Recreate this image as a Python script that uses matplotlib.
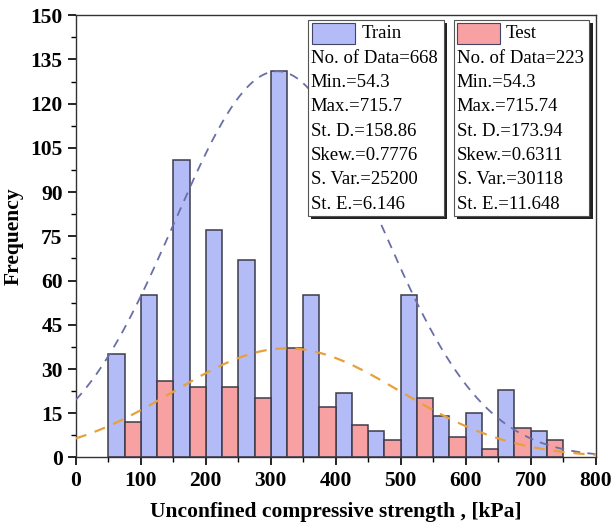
import matplotlib
matplotlib.use("Agg")
import matplotlib.pyplot as plt
import numpy as np
from matplotlib.patches import Rectangle
from matplotlib.ticker import MultipleLocator

# Histogram data (bins of 50 kPa starting at 50)
bin_left = [50, 100, 150, 200, 250, 300, 350, 400, 450, 500, 550, 600, 650, 700]
train_counts = [35, 55, 101, 77, 67, 131, 55, 22, 9, 55, 14, 15, 23, 9]
test_counts = [12, 26, 24, 24, 20, 37, 17, 11, 6, 20, 7, 3, 10, 6]

# Fitted normal curves (mean, std, peak height)
train_mean, train_sd, train_peak = 310, 158.86, 131
test_mean, test_sd, test_peak = 325, 173.94, 37

train_stats = ["No. of Data=668", "Min.=54.3", "Max.=715.7", "St. D.=158.86",
               "Skew.=0.7776", "S. Var.=25200", "St. E.=6.146"]
test_stats = ["No. of Data=223", "Min.=54.3", "Max.=715.74", "St. D.=173.94",
              "Skew.=0.6311", "S. Var.=30118", "St. E.=11.648"]

plt.rcParams["font.family"] = ["Liberation Serif", "DejaVu Serif"]

train_color = "#b3bcf7"
test_color = "#f7a1a3"
edge_color = "#3c3c4c"

fig = plt.figure(figsize=(6.11, 5.24), dpi=100)
ax = fig.add_axes([0.124, 0.127, 0.851, 0.844])

bins = np.array(bin_left)
ax.bar(bins, train_counts, width=25, align="edge", color=train_color,
       edgecolor=edge_color, linewidth=1.1, zorder=2)
ax.bar(bins + 25, test_counts, width=25, align="edge", color=test_color,
       edgecolor=edge_color, linewidth=1.1, zorder=2)

xs = np.linspace(0, 800, 400)
ax.plot(xs, train_peak * np.exp(-(xs - train_mean) ** 2 / (2 * train_sd ** 2)),
        linestyle=(0, (5, 4)), color="#6a6ea8", linewidth=1.3, zorder=3)
ax.plot(xs, test_peak * np.exp(-(xs - test_mean) ** 2 / (2 * test_sd ** 2)),
        linestyle=(0, (5, 4)), color="#e8a03c", linewidth=1.6, zorder=3)

ax.set_xlim(0, 800)
ax.set_ylim(0, 150)
ax.xaxis.set_major_locator(MultipleLocator(100))
ax.xaxis.set_minor_locator(MultipleLocator(50))
ax.yaxis.set_major_locator(MultipleLocator(15))
ax.yaxis.set_minor_locator(MultipleLocator(7.5))
ax.tick_params(which="major", direction="out", length=6, width=1.2, labelsize=15.5)
ax.tick_params(which="minor", direction="out", length=3.5, width=1.0)
for lab in ax.get_xticklabels() + ax.get_yticklabels():
    lab.set_fontweight("bold")
for sp in ax.spines.values():
    sp.set_linewidth(1.0)
    sp.set_color("#333333")

ax.set_xlabel("Unconfined compressive strength , [kPa]", fontsize=15.5,
              fontweight="bold", labelpad=8)
ax.set_ylabel("Frequency", fontsize=15.5, fontweight="bold", labelpad=5)


def stat_box(x0, x1, sw0, sw1, tx, name, color, lines):
    y0, y1 = 0.5455, 0.989
    shadow = Rectangle((x0 + 0.006, y0 - 0.007), x1 - x0, y1 - y0,
                       transform=ax.transAxes, facecolor="#222222",
                       edgecolor="none", zorder=4)
    box = Rectangle((x0, y0), x1 - x0, y1 - y0, transform=ax.transAxes,
                    facecolor="white", edgecolor="#555555", linewidth=0.8,
                    zorder=5)
    ax.add_patch(shadow)
    ax.add_patch(box)
    ax.add_patch(Rectangle((sw0, 0.934), sw1 - sw0, 0.048,
                           transform=ax.transAxes, facecolor=color,
                           edgecolor="#444466", linewidth=0.8, zorder=6))
    ax.text(sw1 + 0.012, 0.958, name, transform=ax.transAxes, fontsize=13.5,
            va="center", ha="left", zorder=6)
    for i, line in enumerate(lines):
        ax.text(tx, 0.903 - i * 0.055, line, transform=ax.transAxes,
                fontsize=13.5, va="center", ha="left", zorder=6)


stat_box(0.446, 0.708, 0.454, 0.537, 0.452, "Train", train_color, train_stats)
stat_box(0.727, 0.988, 0.733, 0.815, 0.733, "Test", test_color, test_stats)

fig.savefig("out.png", dpi=100)
